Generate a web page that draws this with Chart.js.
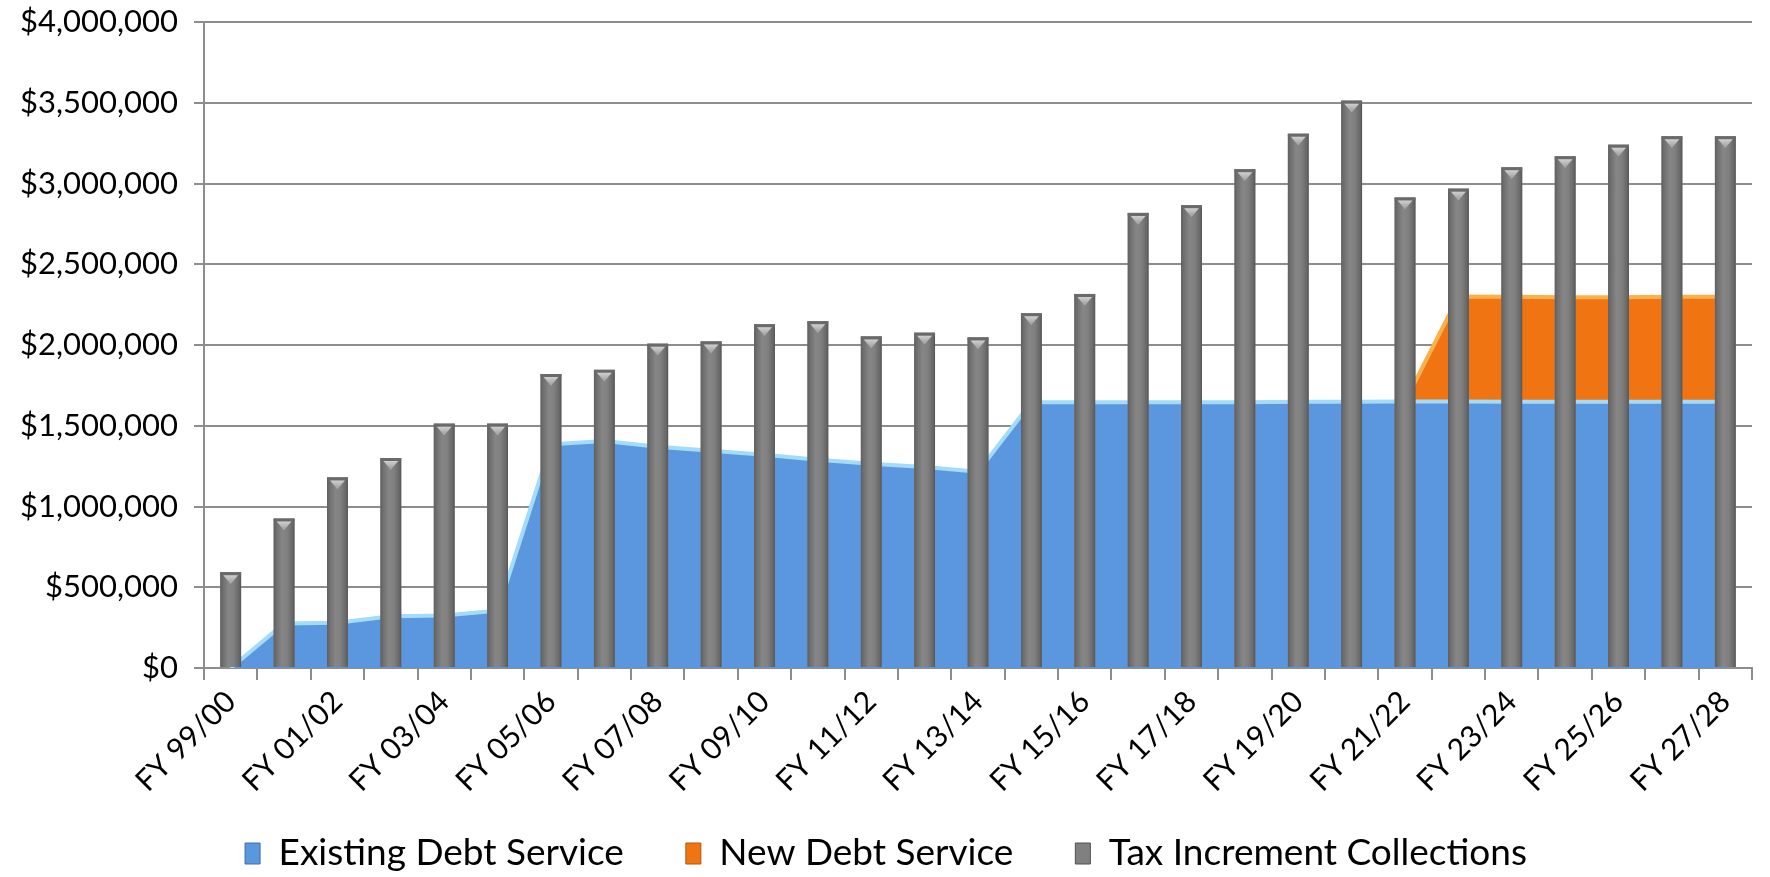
<!DOCTYPE html>
<html>
<head>
<meta charset="utf-8">
<script src="https://cdn.jsdelivr.net/npm/chart.js@4.4.1/dist/chart.umd.min.js"></script>
<style>
  html, body { margin: 0; padding: 0; background: #ffffff; }
  #wrap { width: 1770px; height: 877px; position: relative; }
</style>
</head>
<body>
<div id="wrap"><canvas id="c" width="1770" height="877"></canvas></div>
<script>
const categories = [
  'FY 99/00', 'FY 00/01', 'FY 01/02', 'FY 02/03', 'FY 03/04', 'FY 04/05', 'FY 05/06', 'FY 06/07',
  'FY 07/08', 'FY 08/09', 'FY 09/10', 'FY 10/11', 'FY 11/12', 'FY 12/13', 'FY 13/14', 'FY 14/15',
  'FY 15/16', 'FY 16/17', 'FY 17/18', 'FY 18/19', 'FY 19/20', 'FY 20/21', 'FY 21/22', 'FY 22/23',
  'FY 23/24', 'FY 24/25', 'FY 25/26', 'FY 26/27', 'FY 27/28'
];
const existingDebtService = [
  0, 275000, 280000, 320000, 325000, 355000, 1385000, 1405000,
  1370000, 1345000, 1320000, 1290000, 1265000, 1245000, 1215000, 1645000,
  1645000, 1645000, 1645000, 1645000, 1648000, 1648000, 1650000, 1650000,
  1648000, 1648000, 1648000, 1648000, 1648000
];
const newDebtService = [
  null, null, null, null, null, null, null, null,
  null, null, null, null, null, null, null, null,
  null, null, null, null, null, null, 0, 650000,
  650000, 648000, 648000, 650000, 650000
];
const taxIncrementCollections = [
  593000, 925000, 1180000, 1300000, 1513000, 1513000, 1820000, 1846000,
  2008000, 2022000, 2128000, 2147000, 2053000, 2076000, 2047000, 2196000,
  2316000, 2818000, 2865000, 3088000, 3308000, 3513000, 2913000, 2968000,
  3100000, 3168000, 3240000, 3292000, 3292000
];
const seriesNames = ['Existing Debt Service', 'New Debt Service', 'Tax Increment Collections'];
const yMin = 0, yMax = 4000000, yStep = 500000;

const FONT = 'Lato, "Noto Sans", sans-serif';
const GRID = '#8d8d8d';

const barStyler = {
  id: 'barStyler',
  afterDatasetDraw(chart, args) {
    if (args.meta.type !== 'bar') return;
    const ctx = chart.ctx;
    ctx.save();
    args.meta.data.forEach(el => {
      const w = el.width, x0 = el.x - w / 2, top = el.y, base = el.base;
      const g = ctx.createLinearGradient(x0, 0, x0 + w, 0);
      g.addColorStop(0, '#5f5f5f');
      g.addColorStop(0.12, '#6e6e6e');
      g.addColorStop(0.4, '#868686');
      g.addColorStop(0.65, '#808080');
      g.addColorStop(0.9, '#686868');
      g.addColorStop(1, '#555555');
      ctx.fillStyle = g;
      ctx.fillRect(x0, top, w, base - top);
      ctx.fillStyle = '#6a6a6a';
      ctx.fillRect(x0, top, w, 3);
      ctx.beginPath();
      ctx.moveTo(x0 + 3, top + 3);
      ctx.lineTo(x0 + w - 3, top + 3);
      ctx.lineTo(x0 + w / 2, top + 3 + w * 0.42);
      ctx.closePath();
      const tg = ctx.createLinearGradient(0, top, 0, top + w * 0.45);
      tg.addColorStop(0, '#e2e2e2');
      tg.addColorStop(1, '#a9a9a9');
      ctx.fillStyle = tg;
      ctx.fill();
    });
    ctx.restore();
  }
};

const legendColors = [
  { fill: '#5b97df', stroke: '#3d6ea9' },
  { fill: '#f07512', stroke: '#b3560c' },
  { fill: '#808080', stroke: '#505050' }
];

new Chart(document.getElementById('c'), {
  type: 'bar',
  data: {
    labels: categories,
    datasets: [
      {
        type: 'line',
        label: seriesNames[0],
        data: existingDebtService,
        stack: 'debt',
        order: 1,
        fill: 'origin',
        backgroundColor: '#5b97df',
        borderColor: '#a3dbfb',
        borderWidth: 4,
        pointRadius: 0,
        tension: 0
      },
      {
        type: 'line',
        label: seriesNames[1],
        data: newDebtService,
        stack: 'debt',
        order: 2,
        fill: '-1',
        backgroundColor: '#f07512',
        borderColor: '#fbb04e',
        borderWidth: 4,
        pointRadius: 0,
        tension: 0
      },
      {
        type: 'bar',
        label: seriesNames[2],
        data: taxIncrementCollections,
        stack: 'tic',
        order: 0,
        backgroundColor: '#808080',
        borderColor: '#555555',
        borderWidth: 0,
        categoryPercentage: 1.0,
        barPercentage: 0.39
      }
    ]
  },
  options: {
    responsive: false,
    animation: false,
    layout: { padding: { top: 22, right: 18, left: 20, bottom: -5 } },
    plugins: {
      tooltip: { enabled: false },
      legend: {
        position: 'bottom',
        labels: {
          font: { family: FONT, size: 37 },
          color: '#000000',
          boxWidth: 15,
          boxHeight: 21,
          padding: 62,
          sort: (a, b) => a.datasetIndex - b.datasetIndex,
          generateLabels(chart) {
            const items = Chart.defaults.plugins.legend.labels.generateLabels(chart);
            items.forEach(it => {
              const c = legendColors[it.datasetIndex];
              it.fillStyle = c.fill;
              it.strokeStyle = c.stroke;
              it.lineWidth = 1;
              it.lineDash = [];
            });
            return items;
          }
        }
      }
    },
    scales: {
      x: {
        stacked: false,
        offset: true,
        grid: {
          display: true,
          offset: true,
          drawOnChartArea: false,
          drawTicks: true,
          tickLength: 12,
          color: GRID,
          lineWidth: 2
        },
        border: { display: true, color: GRID, width: 2 },
        ticks: {
          autoSkip: false,
          maxRotation: 45,
          minRotation: 45,
          padding: 4,
          color: '#000000',
          font: { family: FONT, size: 30 },
          callback: (v, i) => (i % 2 === 0 ? categories[i] : '')
        },
        afterFit(scale) {
          scale.height = 105;
          scale._computeLabelArea = () => undefined;
        }
      },
      y: {
        stacked: true,
        min: yMin,
        max: yMax,
        grid: {
          color: GRID,
          lineWidth: 2,
          drawTicks: true,
          tickLength: 10
        },
        border: { display: true, color: GRID, width: 2 },
        ticks: {
          stepSize: yStep,
          padding: 16,
          color: '#000000',
          font: { family: FONT, size: 31 },
          callback: v => '$' + Number(v).toLocaleString('en-US')
        },
        afterFit(scale) {
          scale.width = 184;
          scale.paddingTop = 0;
          scale.paddingBottom = 0;
        }
      }
    }
  },
  plugins: [barStyler]
});
</script>
</body>
</html>
